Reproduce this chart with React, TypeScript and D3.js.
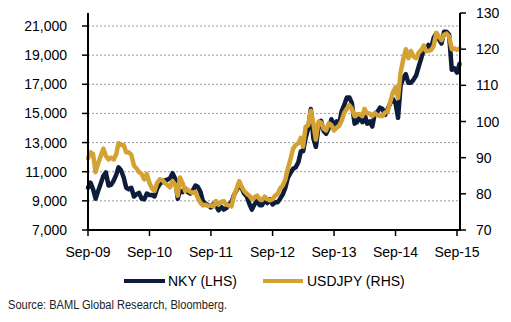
import React from "react";
import * as d3 from "d3";

// chart months (two observations per month: 1st and 16th)
const months = [
  "2009-09","2009-10","2009-11","2009-12",
  "2010-01","2010-02","2010-03","2010-04","2010-05","2010-06","2010-07","2010-08","2010-09","2010-10","2010-11","2010-12",
  "2011-01","2011-02","2011-03","2011-04","2011-05","2011-06","2011-07","2011-08","2011-09","2011-10","2011-11","2011-12",
  "2012-01","2012-02","2012-03","2012-04","2012-05","2012-06","2012-07","2012-08","2012-09","2012-10","2012-11","2012-12",
  "2013-01","2013-02","2013-03","2013-04","2013-05","2013-06","2013-07","2013-08","2013-09","2013-10","2013-11","2013-12",
  "2014-01","2014-02","2014-03","2014-04","2014-05","2014-06","2014-07","2014-08","2014-09","2014-10","2014-11","2014-12",
  "2015-01","2015-02","2015-03","2015-04","2015-05","2015-06","2015-07","2015-08","2015-09",
];

const nky = [
  9900, 10250, 9800, 9150, 9700, 10200, 10700, 10950,
  10050, 10100, 10400, 10800, 11300, 11100, 10600, 9900, 9800, 9900, 9300, 9450, 9550, 9150, 9100, 9500, 9400, 9400, 9300, 9850, 10150, 10300, 10400, 10450,
  10550, 10900, 10500, 9150, 9700, 9600, 9850, 9600, 9500, 9700, 10050, 9950, 9600, 8950, 8800, 8700, 8550, 8800, 8700, 8350, 8600, 8400, 8500, 8750,
  8900, 9400, 9750, 10100, 9900, 9500, 9300, 8800, 8400, 8750, 9000, 8700, 8700, 9100, 8850, 9100, 8750, 8900, 8900, 9150, 9450, 9900, 10600, 10900,
  11200, 11300, 11650, 12400, 12400, 13300, 14000, 15300, 13300, 12700, 14100, 14500, 13800, 13600, 14000, 14600, 14200, 14450, 14250, 15150, 15600, 16100, 16100, 15700,
  14300, 14400, 14800, 14400, 14950, 14300, 14450, 14100, 15000, 15100, 15400, 15300, 14900, 15300, 15700, 16000, 15700, 14700, 16900, 17400, 17700, 17100, 17100, 17300,
  17600, 18200, 18800, 19400, 19300, 19700, 19500, 20200, 20500, 20100, 19800, 20600, 20600, 20400, 18000, 18100, 17800, 18400,
];

const usdjpy = [
  89.8, 91.5, 91.0, 86.0, 88.5, 90.5, 92.5, 90.5,
  89.5, 90.0, 89.5, 91.0, 94.0, 93.5, 93.5, 91.5, 91.5, 90.8, 87.8, 87.0, 86.0, 85.5, 84.0, 85.5, 83.0, 81.5, 80.8, 83.0, 84.0, 83.8, 83.0, 82.5,
  81.8, 83.5, 82.5, 79.5, 84.5, 83.0, 80.8, 81.2, 80.5, 80.3, 80.5, 78.8, 77.5, 76.8, 77.0, 76.6, 76.8, 76.5, 78.0, 77.0, 77.8, 78.0, 77.0, 76.8,
  76.5, 79.5, 81.5, 83.5, 82.0, 80.8, 80.0, 79.5, 78.5, 79.0, 79.5, 78.5, 78.3, 79.2, 78.5, 78.2, 78.5, 79.5, 80.0, 81.5, 82.3, 84.0, 87.0, 89.5,
  92.5, 93.5, 94.0, 95.5, 93.0, 98.5, 99.0, 103.0, 99.5, 95.0, 100.0, 99.7, 98.0, 97.5, 99.5, 99.0, 97.5, 98.3, 98.8, 100.2, 102.5, 103.5, 104.5, 103.5,
  101.5, 102.0, 102.0, 101.5, 103.5, 102.2, 102.2, 101.5, 102.3, 101.8, 101.5, 101.5, 102.5, 102.8, 105.5, 108.0, 109.5, 106.5, 113.5, 117.0, 120.0, 117.5, 119.5, 118.0,
  117.5, 119.0, 119.8, 121.0, 119.5, 119.5, 119.8, 121.0, 124.5, 123.5, 122.5, 124.0, 124.3, 123.5, 120.0, 120.2, 119.8, 120.2,
];

const leftTicks = [7000, 9000, 11000, 13000, 15000, 17000, 19000, 21000];
const rightTicks = [70, 80, 90, 100, 110, 120, 130];
const xTickLabels = ["Sep-09", "Sep-10", "Sep-11", "Sep-12", "Sep-13", "Sep-14", "Sep-15"];
const seriesNames = ["NKY (LHS)", "USDJPY (RHS)"];
const sourceText = "Source:  BAML Global Research, Bloomberg.";

const parseDay = d3.timeParse("%Y-%m-%d");
const parseTick = d3.timeParse("%b-%y");

export default function App() {
  const W = 511, H = 322;
  const x0 = 88, x1 = 460, yTop = 13, yBot = 230;

  const dates = months.flatMap((m) => [parseDay(m + "-01")!, parseDay(m + "-16")!]);
  const tickDates = xTickLabels.map((t) => parseTick(t)!);

  const x = d3.scaleTime()
    .domain([tickDates[0], tickDates[tickDates.length - 1]])
    .range([88, 457]);
  const yL = d3.scaleLinear().domain([7000, 21000]).range([yBot, 26]);
  const yR = d3.scaleLinear().domain([70, 130]).range([yBot, yTop]);

  const lineL = d3.line<number>()
    .x((_, i) => x(dates[i]))
    .y((d) => yL(d))
    .curve(d3.curveLinear);
  const lineR = d3.line<number>()
    .x((_, i) => x(dates[i]))
    .y((d) => yR(d))
    .curve(d3.curveLinear);

  const navy = "#0c1c3a";
  const gold = "#d4a133";
  const font = "'Liberation Sans', Arial, sans-serif";
  const fmt = d3.format(",");

  return (
    <svg width={W} height={H} style={{ position: "absolute", left: 0, top: 0, background: "#fff" }} fontFamily={font}>
      {/* grid */}
      {leftTicks.slice(1).map((t) => (
        <line key={"g" + t} x1={x0} x2={x1} y1={yL(t)} y2={yL(t)} stroke="#9a9a9a" strokeWidth={1} strokeDasharray="2,2" />
      ))}
      {/* series */}
      <path d={lineL(nky.slice(0, dates.length)) || ""} fill="none" stroke={navy} strokeWidth={4.5} strokeLinejoin="round" strokeLinecap="round" />
      <path d={lineR(usdjpy.slice(0, dates.length)) || ""} fill="none" stroke={gold} strokeWidth={4.5} strokeLinejoin="round" strokeLinecap="round" />
      {/* axes */}
      <line x1={x0} x2={x0} y1={yTop} y2={yBot} stroke="#000" strokeWidth={2} />
      <line x1={x1} x2={x1} y1={yTop} y2={yBot} stroke="#000" strokeWidth={2} />
      <line x1={x0 - 1} x2={x1 + 1} y1={yBot} y2={yBot} stroke="#000" strokeWidth={2} />
      {leftTicks.map((t) => (
        <g key={"l" + t}>
          <line x1={x0 - 6} x2={x0} y1={yL(t)} y2={yL(t)} stroke="#000" strokeWidth={1.5} />
          <text x={67} y={yL(t)} dy="0.36em" textAnchor="end" fontSize={14} fill="#000">{fmt(t)}</text>
        </g>
      ))}
      {rightTicks.map((t) => (
        <g key={"r" + t}>
          <line x1={x1} x2={x1 + 6} y1={yR(t)} y2={yR(t)} stroke="#000" strokeWidth={1.5} />
          <text x={476} y={yR(t)} dy="0.36em" textAnchor="start" fontSize={14} fill="#000">{t}</text>
        </g>
      ))}
      {tickDates.map((d, i) => (
        <g key={"x" + i}>
          <line x1={x(d)} x2={x(d)} y1={yBot} y2={yBot + 6} stroke="#000" strokeWidth={1.5} />
          <text x={x(d)} y={257} textAnchor="middle" fontSize={14} fill="#000">{xTickLabels[i]}</text>
        </g>
      ))}
      {/* legend */}
      <line x1={124} x2={165} y1={281} y2={281} stroke={navy} strokeWidth={4} />
      <text x={168} y={281} dy="0.36em" fontSize={14} fill="#000">{seriesNames[0]}</text>
      <line x1={263} x2={303} y1={281} y2={281} stroke={gold} strokeWidth={4} />
      <text x={307} y={281} dy="0.36em" fontSize={14} fill="#000">{seriesNames[1]}</text>
      {/* source */}
      <text x={8} y={309} fontSize={12} fill="#222" textLength={219} lengthAdjust="spacingAndGlyphs"
        fontFamily="'Liberation Sans Narrow', 'Liberation Sans', Arial, sans-serif">{sourceText}</text>
    </svg>
  );
}
